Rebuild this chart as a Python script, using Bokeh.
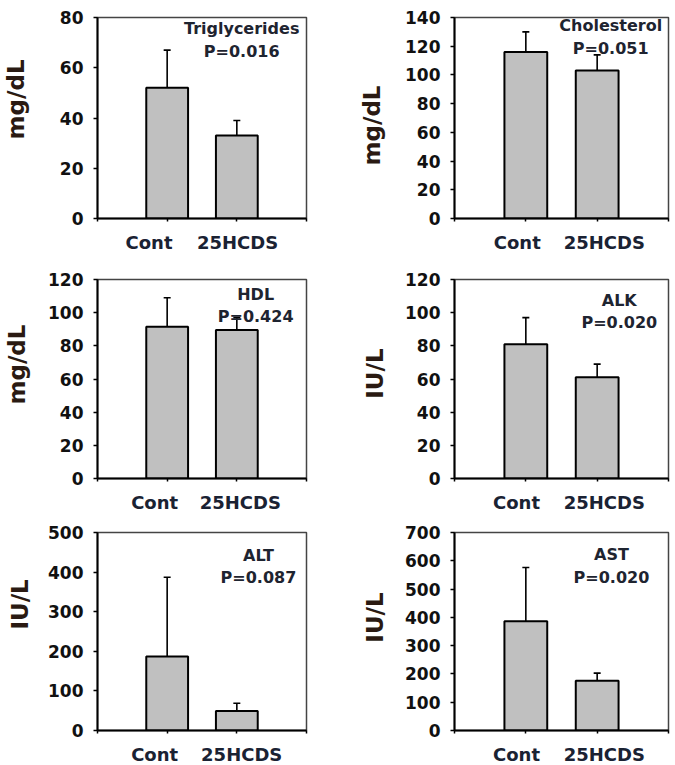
from bokeh.plotting import figure
from bokeh.layouts import gridplot
from bokeh.models import FixedTicker, Range1d, LinearAxis, CustomJSTickFormatter
from bokeh.embed import file_html
from bokeh.resources import INLINE
from bokeh.core.properties import value

# ---------------- data ----------------
groups = ["Cont", "25HCDS"]
group_pos = [1, 2]

names = ["Triglycerides", "Cholesterol", "HDL", "ALK", "ALT", "AST"]
pvalues = ["P=0.016", "P=0.051", "P=0.424", "P=0.020", "P=0.087", "P=0.020"]
units = ["mg/dL", "mg/dL", "mg/dL", "IU/L", "IU/L", "IU/L"]

tg_mean = [52, 33]
tg_sd = [15, 6]
chol_mean = [116, 103]
chol_sd = [14, 11]
hdl_mean = [91.5, 89.5]
hdl_sd = [17.5, 7.5]
alk_mean = [81, 61]
alk_sd = [16, 8]
alt_mean = [187, 49]
alt_sd = [200, 20]
ast_mean = [386, 176]
ast_sd = [190, 27]

means = [tg_mean, chol_mean, hdl_mean, alk_mean, alt_mean, ast_mean]
sds = [tg_sd, chol_sd, hdl_sd, alk_sd, alt_sd, ast_sd]

y_max = [80, 140, 120, 120, 500, 700]
y_step = [20, 20, 20, 20, 100, 100]

# ---------------- layout / style ----------------
FONT = "DejaVu Sans"
# annotation anchor (data units): x, name-y, p-y
ann = [
    (2.07, 75.8, 66.5),
    (2.19, 134.4, 118.2),
    (2.27, 110.8, 97.7),
    (2.31, 107.5, 94.1),
    (2.31, 441, 386),
    (2.20, 623, 541),
]
# unit title: (centre in data units, standoff px)
unit_pos = [(47.4, 27), (64.8, 17), (68.7, 15), (63.3, 14), (318.5, 12), (399.5, 14)]
# category label positions (data units) per panel ; tick marks at 0..3
cat_x = [(0.74, 2.01), (0.88, 2.10), (0.82, 2.05), (0.87, 2.10), (0.82, 2.07), (0.87, 2.10)]
tick_x = [0, 1, 2, 3]
col_geom = [  # (border_left, frame_width, border_right)
    (95, 209, 10),
    (138, 214, 6),
]
row_geom = [  # (border_top, frame_height, border_bottom)
    (17, 201, 36),
    (24, 199, 36),
    (17, 198, 34),
]


def make_panel(i):
    r, c = divmod(i, 2)
    bl, fw, br = col_geom[c]
    bt, fh, bb = row_geom[r]
    p = figure(
        frame_width=fw, frame_height=fh,
        min_border_left=bl, min_border_right=br,
        min_border_top=bt, min_border_bottom=bb,
        x_range=Range1d(0, 3), y_range=Range1d(0, y_max[i]),
        output_backend="svg", toolbar_location=None, tools="",
    )
    p.background_fill_color = "white"
    p.border_fill_color = "white"
    p.outline_line_color = "#444444"
    p.outline_line_width = 1.5
    p.xgrid.visible = False
    p.ygrid.visible = False

    m = means[i]
    s = sds[i]
    upper = [a + b for a, b in zip(m, s)]

    p.vbar(x=group_pos, top=m, bottom=0, width=0.6,
           fill_color="#c0c0c0", line_color="black", line_width=2)
    p.segment(x0=group_pos, y0=m, x1=group_pos, y1=upper,
              line_color="black", line_width=1.6)
    p.scatter(x=group_pos, y=upper, marker="dash", size=7,
              line_color="black", line_width=1.6)

    ax, ny, py = ann[i]
    p.text(x=[ax, ax], y=[ny, py], text=[names[i], pvalues[i]],
           text_font=value(FONT), text_font_style="bold",
           text_font_size="16px", text_color="#1e2430",
           text_align="center", text_baseline="middle")

    # y axis
    ya = p.yaxis[0]
    ya.ticker = FixedTicker(ticks=list(range(0, y_max[i] + 1, y_step[i])))
    ya.minor_tick_line_color = None
    ya.major_tick_in = 0
    ya.major_tick_out = 4
    ya.major_tick_line_width = 1.5
    ya.axis_line_width = 2
    ya.axis_line_color = "black"
    ya.major_label_standoff = 10
    ya.major_label_text_font = FONT
    ya.major_label_text_font_style = "bold"
    ya.major_label_text_font_size = "17px"
    ya.major_label_text_color = "#111111"

    # unit title as an outer left axis with a single label
    uy, us = unit_pos[i]
    ua = LinearAxis(
        ticker=FixedTicker(ticks=[uy]),
        formatter=CustomJSTickFormatter(code="return %r;" % units[i]),
        axis_line_color=None, major_tick_line_color=None, minor_tick_line_color=None,
        major_tick_in=0, major_tick_out=0,
        major_label_standoff=us, major_label_orientation="vertical",
        major_label_text_font=FONT, major_label_text_font_style="bold",
        major_label_text_font_size="23px", major_label_text_color="#2a1a12",
    )
    p.add_layout(ua, "left")

    # x axis: labels at category label positions, tick marks as minor ticks
    cx = list(cat_x[i])
    xa = p.xaxis[0]
    xa.ticker = FixedTicker(ticks=cx, minor_ticks=tick_x)
    xa.formatter = CustomJSTickFormatter(
        code="return index == 0 ? %r : %r;" % (groups[0], groups[1]))
    xa.major_tick_line_color = None
    xa.major_tick_in = 0
    xa.major_tick_out = 3
    xa.minor_tick_in = 0
    xa.minor_tick_out = 3
    xa.minor_tick_line_width = 1.5
    xa.minor_tick_line_color = "black"
    xa.axis_line_width = 2
    xa.axis_line_color = "black"
    xa.major_label_standoff = 10
    xa.major_label_text_font = FONT
    xa.major_label_text_font_style = "bold"
    xa.major_label_text_font_size = "18px"
    xa.major_label_text_color = "#1a2233"
    return p


panels = [make_panel(i) for i in range(6)]
grid = gridplot([[panels[0], panels[1]], [panels[2], panels[3]], [panels[4], panels[5]]],
                toolbar_location=None)

open("out.html", "w").write(file_html(grid, INLINE))
